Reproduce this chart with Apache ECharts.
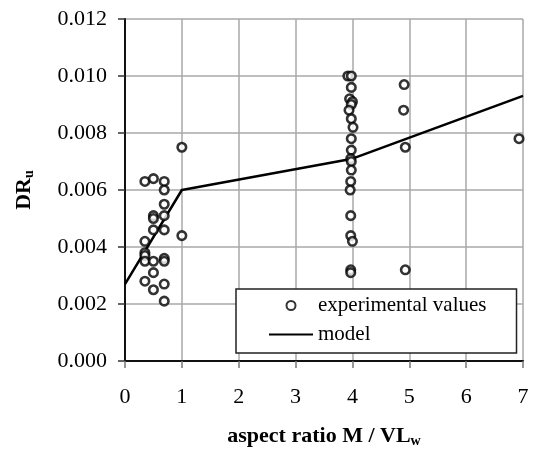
<!DOCTYPE html>
<html>
<head>
<meta charset="utf-8">
<script src="https://cdn.jsdelivr.net/npm/echarts@6/dist/echarts.min.js"></script>
<style>
    html, body { margin: 0; padding: 0; background: #fff; }
    #chart { width: 534px; height: 456px; }
</style>
</head>
<body>
<div id="chart"></div>
<script>
// experimental values (aspect ratio, DRu)
const expAspect = [
    0.35, 0.35, 0.35, 0.35, 0.35, 0.35,
    0.5, 0.5, 0.5, 0.5, 0.5, 0.5, 0.5,
    0.69, 0.69, 0.69, 0.69, 0.69, 0.69, 0.69, 0.69, 0.69,
    1.0, 1.0,
    3.92, 3.98, 3.98, 3.95, 4.0, 3.98, 3.94, 3.98, 4.01, 3.98, 3.98,
    3.97, 3.98, 3.98, 3.97, 3.96, 3.97, 3.97, 4.0, 3.97, 3.97,
    4.91, 4.9, 4.93, 4.93,
    6.93
];
const expDrift = [
    0.0063, 0.0042, 0.0038, 0.0037, 0.0035, 0.0028,
    0.0064, 0.0051, 0.0050, 0.0046, 0.0035, 0.0031, 0.0025,
    0.0063, 0.0060, 0.0055, 0.0051, 0.0046, 0.0036, 0.0035, 0.0027, 0.0021,
    0.0075, 0.0044,
    0.0100, 0.0100, 0.0096, 0.0092, 0.0091, 0.0090, 0.0088, 0.0085, 0.0082, 0.0078, 0.0074,
    0.0071, 0.0070, 0.0067, 0.0063, 0.0060, 0.0051, 0.0044, 0.0042, 0.0032, 0.0031,
    0.0097, 0.0088, 0.0075, 0.0032,
    0.0078
];

// model curve
const modelAspect = [0, 1, 4, 7];
const modelDrift = [0.0027, 0.0060, 0.0071, 0.0093];

const xTicks = [0, 1, 2, 3, 4, 5, 6, 7];
const yTicks = [0, 0.002, 0.004, 0.006, 0.008, 0.010, 0.012];

const font = 'Liberation Serif';

const chartDom = document.getElementById('chart');
const myChart = echarts.init(chartDom, null, {
    renderer: 'canvas',
    useDirtyRect: false
});

const expData = expAspect.map((x, i) => [x, expDrift[i]]);
const modelData = modelAspect.map((x, i) => [x, modelDrift[i]]);

const subRich = {
    a: { fontFamily: font, fontSize: 22, fontWeight: 'bold', color: '#000' },
    s: { fontFamily: font, fontSize: 14, fontWeight: 'bold', color: '#000', padding: [10, 0, 0, 0] }
};

const option = {
    animation: false,
    backgroundColor: '#fff',
    textStyle: { fontFamily: font },
    grid: {
        left: 125,
        right: 11,
        top: 19,
        bottom: 95
    },
    legend: {
        orient: 'vertical',
        left: 236,
        top: 289,
        padding: [6, 30, 8, 32],
        itemGap: 8,
        itemWidth: 44,
        itemHeight: 9,
        backgroundColor: '#fff',
        borderColor: '#222',
        borderWidth: 1.5,
        borderRadius: 0,
        textStyle: { fontFamily: font, fontSize: 21, color: '#000' },
        data: [
            'experimental values',
            { name: 'model', itemStyle: { opacity: 0 } }
        ]
    },
    xAxis: {
        type: 'value',
        min: xTicks[0],
        max: xTicks[xTicks.length - 1],
        interval: 1,
        name: '{a|aspect ratio M / VL}{s|w}',
        nameLocation: 'middle',
        nameGap: 63,
        nameTextStyle: { rich: subRich },
        axisLine: { onZero: false, lineStyle: { color: '#111', width: 2 } },
        axisTick: { show: true, inside: false, length: 7, lineStyle: { color: '#777', width: 1.5 } },
        axisLabel: { fontFamily: font, fontSize: 22, color: '#000', margin: 25 },
        splitLine: { show: true, lineStyle: { color: '#a8a8a8', width: 1.5 } }
    },
    yAxis: {
        type: 'value',
        min: yTicks[0],
        max: yTicks[yTicks.length - 1],
        interval: 0.002,
        name: '{a|DR}{s|u}',
        nameLocation: 'middle',
        nameGap: 89,
        nameTextStyle: { rich: subRich },
        axisLine: { show: true, onZero: false, lineStyle: { color: '#111', width: 2 } },
        axisTick: { show: true, inside: false, length: 7, lineStyle: { color: '#333', width: 1.5 } },
        axisLabel: {
            fontFamily: font,
            fontSize: 22,
            color: '#000',
            margin: 18,
            formatter: (v) => v.toFixed(3)
        },
        splitLine: { show: true, lineStyle: { color: '#a8a8a8', width: 1.5 } }
    },
    series: [
        {
            name: 'experimental values',
            type: 'scatter',
            symbol: 'circle',
            symbolSize: 8.5,
            itemStyle: { color: '#fff', borderColor: '#000', borderWidth: 2.6 },
            data: expData,
            z: 3
        },
        {
            name: 'model',
            type: 'line',
            symbol: 'none',
            showSymbol: false,
            lineStyle: { color: '#000', width: 2.5 },
            data: modelData,
            z: 2
        }
    ]
};

if (option && typeof option === 'object') {
    myChart.setOption(option);
}

window.addEventListener('resize', myChart.resize);
</script>
</body>
</html>
